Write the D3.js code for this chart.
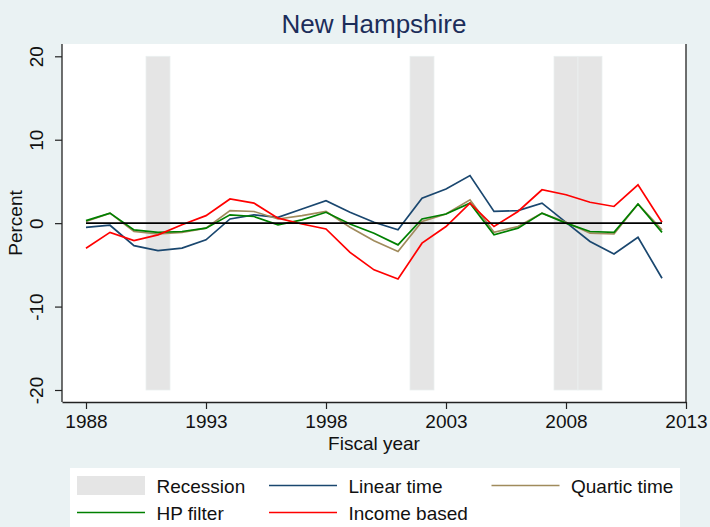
<!DOCTYPE html>
<html>
<head>
<meta charset="utf-8">
<script src="https://cdn.jsdelivr.net/npm/d3@7"></script>
<style>
    body { margin: 0; background: #eaf2f3; }
    svg { display: block; font-family: "Liberation Sans", Arial, sans-serif; }
</style>
</head>
<body>
<div id="chart"></div>
<script>
// fiscal years and the four gap estimates (percent)
const years = [1988, 1989, 1990, 1991, 1992, 1993, 1994, 1995, 1996, 1997, 1998, 1999, 2000,
    2001, 2002, 2003, 2004, 2005, 2006, 2007, 2008, 2009, 2010, 2011, 2012];
const linearTime = [-0.5, -0.25, -2.7, -3.3, -3.0, -2.0, 0.5, 1.0, 0.7, 1.7, 2.7, 1.3, 0.1,
    -0.8, 3.0, 4.1, 5.7, 1.4, 1.5, 2.4, 0.1, -2.2, -3.7, -1.7, -6.6];
const quarticTime = [0.2, 1.2, -1.0, -1.3, -1.1, -0.6, 1.5, 1.4, 0.5, 0.9, 1.4, -0.5, -2.1,
    -3.4, 0.2, 1.1, 2.8, -1.1, -0.4, 1.2, 0.1, -1.2, -1.3, 2.3, -0.8];
const hpFilter = [0.3, 1.2, -0.8, -1.1, -1.0, -0.6, 1.0, 0.8, -0.2, 0.4, 1.3, -0.1, -1.2,
    -2.6, 0.5, 1.1, 2.4, -1.4, -0.6, 1.2, 0.0, -1.0, -1.1, 2.3, -1.1];
const incomeBased = [-3.0, -1.1, -2.1, -1.4, -0.2, 0.9, 2.9, 2.4, 0.6, -0.1, -0.7, -3.5, -5.6,
    -6.7, -2.4, -0.4, 2.4, -0.4, 1.4, 4.0, 3.4, 2.5, 2.0, 4.6, 0.1];

// recession years (shaded one full year wide, from -20 to 20)
const recessionYears = [1991, 2002, 2008, 2009];
const recessionRange = [-20, 20];

const xTicks = [1988, 1993, 1998, 2003, 2008, 2013];
const yTicks = [-20, -10, 0, 10, 20];

const seriesList = [
    { name: "Linear time", values: linearTime, color: "#1a476f" },
    { name: "Quartic time", values: quarticTime, color: "#a08b5c" },
    { name: "HP filter", values: hpFilter, color: "#008000" },
    { name: "Income based", values: incomeBased, color: "#ff0000" }
];

const width = 710, height = 527;
const plot = { left: 62, right: 686, top: 44, bottom: 402 };

const svg = d3.select("#chart").append("svg")
    .attr("width", width)
    .attr("height", height);

svg.append("rect")
    .attr("width", width).attr("height", height)
    .attr("fill", "#eaf2f3");

// white plot region
svg.append("rect")
    .attr("x", plot.left).attr("y", plot.top)
    .attr("width", plot.right - plot.left)
    .attr("height", plot.bottom - plot.top)
    .attr("fill", "#fff");

const x = d3.scaleLinear().domain([1987, 2013]).range([plot.left, plot.right]);
const y = d3.scaleLinear().domain([-20, 20]).range([390, 56.3]);

// recession bars
svg.append("g")
    .selectAll("rect")
    .data(recessionYears)
    .join("rect")
    .attr("x", d => x(d - 0.5))
    .attr("width", d => x(d + 0.5) - x(d - 0.5))
    .attr("y", y(recessionRange[1]))
    .attr("height", y(recessionRange[0]) - y(recessionRange[1]))
    .attr("fill", "#e5e5e5")
    .attr("stroke", "#eaefef")
    .attr("stroke-width", 0.8);

// the series
const line = d3.line()
    .x((d, i) => x(years[i]))
    .y(d => y(d));

svg.append("g")
    .attr("fill", "none")
    .attr("stroke-width", 1.7)
    .selectAll("path")
    .data(seriesList)
    .join("path")
    .attr("stroke", d => d.color)
    .attr("d", d => line(d.values));

// zero line across the data range
svg.append("line")
    .attr("x1", x(years[0]))
    .attr("x2", x(years[years.length - 1]))
    .attr("y1", y(0)).attr("y2", y(0))
    .attr("stroke", "#000")
    .attr("stroke-width", 1.6);

// axes
const xAxis = svg.append("g")
    .attr("transform", `translate(0,${plot.bottom})`)
    .call(d3.axisBottom(x).tickValues(xTicks).tickFormat(d => String(d)).tickSize(7).tickSizeOuter(0));
xAxis.select(".domain").attr("stroke", "#222").attr("stroke-width", 1.3);
xAxis.selectAll(".tick line").attr("stroke", "#222").attr("stroke-width", 1.2);
xAxis.selectAll(".tick text")
    .attr("y", 26).attr("dy", 0)
    .attr("font-size", 19).attr("fill", "#111")
    .attr("font-family", "Liberation Sans, Arial, sans-serif");

const yAxis = svg.append("g")
    .attr("transform", `translate(${plot.left},0)`)
    .call(d3.axisLeft(y).tickValues(yTicks).tickFormat(d => String(d)).tickSize(7).tickSizeOuter(0));
yAxis.select(".domain")
    .attr("d", `M0,${plot.top}V${plot.bottom}`)
    .attr("stroke", "#222").attr("stroke-width", 1.3);
yAxis.selectAll(".tick line").attr("stroke", "#222").attr("stroke-width", 1.2);
yAxis.selectAll(".tick text")
    .attr("transform", "rotate(-90)")
    .attr("x", 0).attr("y", -19).attr("dy", 0)
    .attr("text-anchor", "middle")
    .attr("font-size", 19).attr("fill", "#111")
    .attr("font-family", "Liberation Sans, Arial, sans-serif");

// right border of the plot region
svg.append("line")
    .attr("x1", plot.right).attr("x2", plot.right)
    .attr("y1", plot.top).attr("y2", plot.bottom)
    .attr("stroke", "#222").attr("stroke-width", 1.3);

// titles
svg.append("text")
    .attr("x", (plot.left + plot.right) / 2).attr("y", 33)
    .attr("text-anchor", "middle")
    .attr("font-size", 26).attr("fill", "#1c2d5a")
    .text("New Hampshire");

svg.append("text")
    .attr("x", (plot.left + plot.right) / 2).attr("y", 450)
    .attr("text-anchor", "middle")
    .attr("font-size", 19).attr("fill", "#111")
    .text("Fiscal year");

svg.append("text")
    .attr("transform", `translate(22,${(plot.top + plot.bottom) / 2}) rotate(-90)`)
    .attr("text-anchor", "middle")
    .attr("font-size", 19).attr("fill", "#111")
    .text("Percent");

// legend
const legend = svg.append("g");
legend.append("rect")
    .attr("x", 70).attr("y", 468)
    .attr("width", 610).attr("height", 80)
    .attr("fill", "#fff");

const legendItems = [
    { name: "Recession", kind: "rect", color: "#e5e5e5", col: 0, row: 0 },
    { name: seriesList[0].name, kind: "line", color: seriesList[0].color, col: 1, row: 0 },
    { name: seriesList[1].name, kind: "line", color: seriesList[1].color, col: 2, row: 0 },
    { name: seriesList[2].name, kind: "line", color: seriesList[2].color, col: 0, row: 1 },
    { name: seriesList[3].name, kind: "line", color: seriesList[3].color, col: 1, row: 1 }
];
const colX = [77, 269, 491.5];
const rowY = [485.5, 512.5];
const keyW = 68;

const item = legend.selectAll("g.item")
    .data(legendItems)
    .join("g")
    .attr("class", "item")
    .attr("transform", d => `translate(${colX[d.col]},${rowY[d.row]})`);

item.filter(d => d.kind === "rect").append("rect")
    .attr("x", 0).attr("y", -9.5)
    .attr("width", keyW).attr("height", 19)
    .attr("fill", d => d.color);

item.filter(d => d.kind === "line").append("line")
    .attr("x1", 0).attr("x2", keyW)
    .attr("stroke", d => d.color)
    .attr("stroke-width", 1.6);

item.append("text")
    .attr("x", keyW + 11.5)
    .attr("y", 7)
    .attr("font-size", 19).attr("fill", "#111")
    .text(d => d.name);
</script>
</body>
</html>
